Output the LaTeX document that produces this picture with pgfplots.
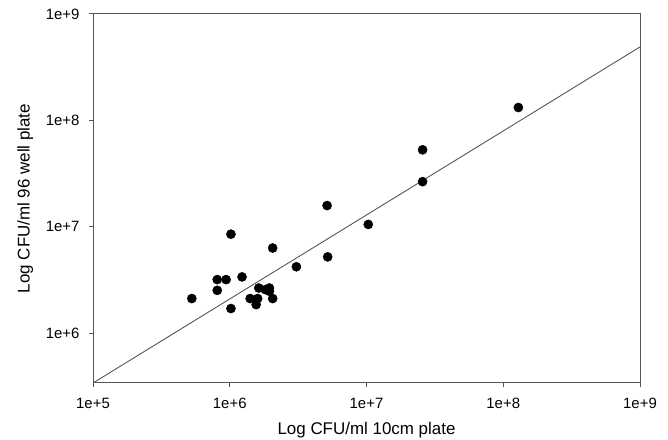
\documentclass[border=0pt]{standalone}
\usepackage{fontspec}
\setmainfont{Liberation Sans}
\usepackage{pgfplots}
\pgfplotsset{compat=1.18}

\definecolor{axisgray}{HTML}{555555}

\begin{document}
\begin{tikzpicture}
  % page = 668 x 440, axis box 547 x 369 at (93,14) from the top left
  \path[use as bounding box] (-93bp,-57bp) rectangle (575bp,383bp);
  \begin{axis}[
    at={(0,0)}, anchor=south west,
    width=547bp, height=369bp, scale only axis,
    xmode=log, ymode=log,
    xmin=1e5, xmax=1e9, ymin=3.39e5, ymax=1e9,
    xtick={1e5,1e6,1e7,1e8,1e9},
    xticklabels={1e+5,1e+6,1e+7,1e+8,1e+9},
    ytick={1e6,1e7,1e8,1e9},
    yticklabels={1e+6,1e+7,1e+8,1e+9},
    xminorticks=false, yminorticks=false,
    tick align=outside, xtick pos=left, ytick pos=left,
    major tick length=4bp,
    axis line style={axisgray, line width=1pt},
    every tick/.style={axisgray, line width=1pt},
    ticklabel style={font=\fontsize{15}{18}\selectfont},
    xticklabel style={yshift=-8bp},
    yticklabel style={xshift=-6bp},
    xlabel={Log CFU/ml 10cm plate},
    ylabel={Log CFU/ml 96 well plate},
    label style={font=\fontsize{17}{20}\selectfont},
    xlabel style={at={(axis description cs:0.5,-0.127)}, anchor=center},
    ylabel style={at={(axis description cs:-0.124,0.5)}, anchor=center, rotate=0},
  ]
    % regression line
    \addplot[axisgray, line width=0.9pt] coordinates {(1e5,3.39e5) (1e9,4.9e8)};
    % observations
    \addplot[only marks, mark=*, mark size=4.6bp, black] coordinates {
      (5.28e5,2.11e6)
      (1.02e6,8.5e6)
      (8.1e5,3.18e6) (9.4e5,3.18e6)
      (8.1e5,2.52e6)
      (1.02e6,1.70e6)
      (1.23e6,3.37e6)
      (2.06e6,6.3e6)
      (3.07e6,4.2e6)
      (5.15e6,1.58e7)
      (5.2e6,5.2e6)
      (1.63e6,2.65e6) (1.82e6,2.56e6) (1.95e6,2.65e6) (1.95e6,2.47e6)
      (1.41e6,2.11e6) (1.60e6,2.11e6) (1.56e6,1.85e6) (2.06e6,2.11e6)
      (1.03e7,1.05e7)
      (2.57e7,5.28e7)
      (2.57e7,2.65e7)
      (1.29e8,1.32e8)
    };
  \end{axis}
\end{tikzpicture}
\end{document}
